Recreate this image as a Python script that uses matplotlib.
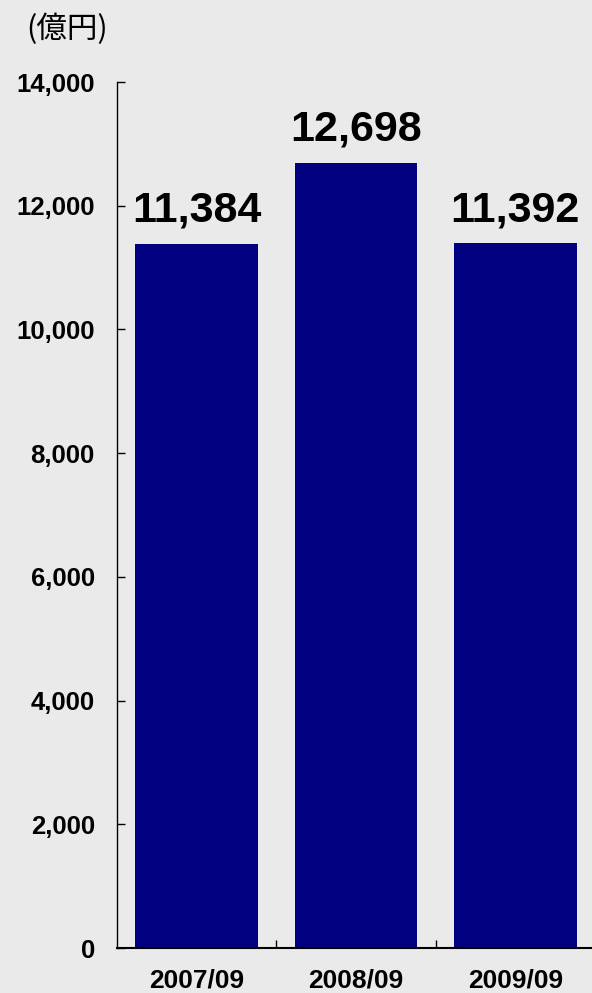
import matplotlib
matplotlib.use("Agg")
import matplotlib.pyplot as plt
import numpy as np

# ── data ─────────────────────────────────────────────
categories = ["2007/09", "2008/09", "2009/09"]
values     = [11384, 12698, 11392]
value_text = ["11,384", "12,698", "11,392"]
y_ticks    = [0, 2000, 4000, 6000, 8000, 10000, 12000, 14000]
unit_label = "(億円)"
# ─────────────────────────────────────────────────────

bg = "#EAEAEA"
bar_color = "#000080"

plt.rcParams["font.family"] = ["Liberation Sans", "DejaVu Sans"]

fig = plt.figure(figsize=(5.92, 9.93), dpi=100, facecolor=bg)
ax = fig.add_axes([117 / 592, 45 / 993, 478 / 592, 866 / 993])
ax.set_facecolor(bg)

x = np.arange(len(categories))
ax.bar(x, values, width=0.77, color=bar_color, zorder=2)

for xi, v, t in zip(x, values, value_text):
    ax.annotate(t, (xi, v), xytext=(0, 16), textcoords="offset points",
                ha="center", va="baseline", fontsize=31, fontweight="bold")

ax.set_xlim(-0.5, len(categories) - 0.5)
ax.set_ylim(0, 14000)

ax.set_yticks(y_ticks)
ax.set_yticklabels([f"{v:,}" for v in y_ticks], fontsize=18.5, fontweight="bold")
ax.tick_params(axis="y", direction="in", length=6, width=1, pad=16)

ax.set_xticks(x)
ax.set_xticklabels(categories, fontsize=19, fontweight="bold")
ax.tick_params(axis="x", which="major", length=0, pad=15)
ax.set_xticks(x[:-1] + 0.5, minor=True)
ax.tick_params(axis="x", which="minor", direction="in", length=6, width=1)

ax.spines[["top", "right"]].set_visible(False)
ax.spines["left"].set_linewidth(1)
ax.spines["bottom"].set_linewidth(1.5)

fig.text(26 / 592, 1 - 29 / 993, unit_label, fontsize=22, va="center", ha="left",
         family=["Noto Sans CJK JP", "DejaVu Sans"])

fig.savefig("out.png", dpi=100, facecolor=bg)
